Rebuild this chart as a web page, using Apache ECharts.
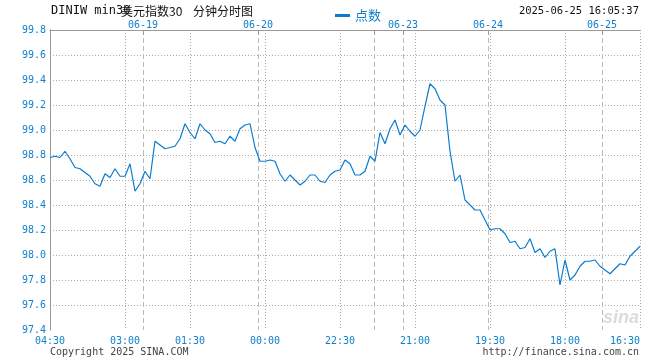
<!DOCTYPE html>
<html><head><meta charset="utf-8">
<script src="https://cdn.jsdelivr.net/npm/echarts@6/dist/echarts.min.js"></script>
<style>html,body{margin:0;padding:0;background:#fff}#c{width:660px;height:360px}</style>
</head><body><div id="c"></div>
<script>
// DINIW 30-minute close values (one value every 5 px)
const values = [
  98.78, 98.79, 98.78, 98.83, 98.77, 98.70, 98.69, 98.66, 98.63, 98.57,
  98.55, 98.65, 98.62, 98.69, 98.63, 98.63, 98.73, 98.51, 98.57, 98.67,
  98.61, 98.91, 98.88, 98.85, 98.86, 98.87, 98.93, 99.05, 98.98, 98.93,
  99.05, 99.00, 98.97, 98.90, 98.91, 98.89, 98.95, 98.91, 99.01, 99.04,
  99.05, 98.86, 98.75, 98.75, 98.76, 98.75, 98.65, 98.59, 98.64, 98.60,
  98.56, 98.59, 98.64, 98.64, 98.59, 98.58, 98.64, 98.67, 98.68, 98.76,
  98.73, 98.64, 98.64, 98.67, 98.79, 98.75, 98.98, 98.89, 99.01, 99.08,
  98.96, 99.04, 98.99, 98.95, 99.00, 99.19, 99.37, 99.33, 99.24, 99.20,
  98.83, 98.59, 98.64, 98.44, 98.40, 98.36, 98.36, 98.28, 98.20, 98.21,
  98.21, 98.17, 98.10, 98.11, 98.05, 98.06, 98.13, 98.02, 98.05, 97.98,
  98.03, 98.05, 97.76, 97.96, 97.80, 97.84, 97.91, 97.95, 97.95, 97.96,
  97.91, 97.88, 97.85, 97.89, 97.93, 97.92, 97.99, 98.03, 98.07
];
const timeTickIdx = [0, 15, 28, 43, 58, 73, 88, 103, 118];
const timeLabels = ['04:30', '03:00', '01:30', '00:00', '22:30', '21:00', '19:30', '18:00', '16:30'];
const dateTickIdx = [18.6, 41.6, 64.8, 70.6, 87.6, 110.4];
const dateLabels = ['06-19', '06-20', '', '06-23', '06-24', '06-25'];
const yLabelVals = [97.4, 97.6, 97.8, 98.0, 98.2, 98.4, 98.6, 98.8, 99.0, 99.2, 99.4, 99.6, 99.8];
const yGridVals = [97.6, 97.8, 98.0, 98.2, 98.4, 98.6, 98.8, 99.0, 99.2, 99.4, 99.6];
const yMin = 97.4, yMax = 99.8;
const seriesName = '点数';
const titleCode = 'DINIW min30';
const titleCn = '美元指数30';
const titleKind = '分钟分时图';
const stamp = '2025-06-25 16:05:37';
const copyright = 'Copyright 2025 SINA.COM';
const site = 'http://finance.sina.com.cn';

const mono = '"DejaVu Sans Mono", monospace';
const blue = '#1180cc';
const lineBlue = '#0a7ccf';
function lookup(idx, labels, v) {
  for (let k = 0; k < idx.length; k++) if (Math.abs(idx[k] - v) < 1e-6) return labels[k];
  return '';
}
const chart = echarts.init(document.getElementById('c'), null, { renderer: 'canvas' });
chart.setOption({
  animation: false,
  grid: { left: 50, right: 20, top: 30, bottom: 30 },
  legend: {
    left: 330, top: 4, icon: 'rect', itemWidth: 15, itemHeight: 3,
    textStyle: { color: blue, fontSize: 13, fontFamily: '"Noto Sans CJK SC"' },
    data: [{ name: seriesName, itemStyle: { color: lineBlue } }]
  },
  xAxis: [
    {
      type: 'value', min: 0, max: values.length - 1, position: 'bottom',
      axisLine: { show: false },
      axisTick: { show: false, customValues: timeTickIdx },
      axisLabel: {
        customValues: timeTickIdx, formatter: v => lookup(timeTickIdx, timeLabels, v),
        color: blue, fontFamily: mono, fontSize: 10, margin: 6,
        alignMinLabel: 'center', alignMaxLabel: 'right'
      },
      splitLine: { show: true, lineStyle: { color: '#aaa', type: [1, 2], width: 1 } }
    },
    {
      type: 'value', min: 0, max: values.length - 1, position: 'top',
      axisLine: { show: true, lineStyle: { color: '#999' } },
      axisTick: { show: true, inside: true, length: 5, customValues: dateTickIdx, lineStyle: { color: '#999' } },
      axisLabel: {
        customValues: dateTickIdx, formatter: v => lookup(dateTickIdx, dateLabels, v),
        color: blue, fontFamily: mono, fontSize: 10, margin: 0
      },
      splitLine: { show: true, lineStyle: { color: '#bbb', type: [5, 3], width: 1 } }
    }
  ],
  yAxis: [
    {
      type: 'value', min: yMin, max: yMax,
      axisLine: { show: true, lineStyle: { color: '#999' } },
      axisTick: { show: false, customValues: yGridVals },
      axisLabel: { customValues: yLabelVals, formatter: v => v.toFixed(1), color: blue, fontFamily: mono, fontSize: 10, margin: 4 },
      splitLine: { show: true, lineStyle: { color: '#aaa', type: [1, 2], width: 1 } }
    },
    {
      type: 'value', min: yMin, max: yMax, position: 'right',
      axisLine: { show: true, lineStyle: { color: '#999' } },
      axisTick: { show: false }, axisLabel: { show: false }, splitLine: { show: false }
    }
  ],
  series: [{
    name: seriesName, type: 'line', xAxisIndex: 0, yAxisIndex: 0,
    data: values.map((v, i) => [i, v]),
    showSymbol: false, symbol: 'none',
    lineStyle: { color: lineBlue, width: 1.2 }, itemStyle: { color: lineBlue }
  }],
  graphic: [
    { type: 'text', x: 51, y: 11, style: { text: titleCode, font: '12px "DejaVu Sans Mono"', fill: '#111', verticalAlign: 'middle' } },
    { type: 'text', x: 121, y: 11, style: { text: titleCn, font: '12px "Noto Sans CJK SC"', fill: '#111', verticalAlign: 'middle' } },
    { type: 'text', x: 193, y: 11, style: { text: titleKind, font: '12px "Noto Sans CJK SC"', fill: '#111', verticalAlign: 'middle' } },
    { type: 'text', x: 639, y: 11, style: { text: stamp, font: '10.5px "DejaVu Sans Mono"', fill: '#111', align: 'right', verticalAlign: 'middle' } },
    { type: 'text', x: 50, y: 352, style: { text: copyright, font: '10px "DejaVu Sans Mono"', fill: '#444', verticalAlign: 'middle' } },
    { type: 'text', x: 639, y: 352, style: { text: site, font: '10px "DejaVu Sans Mono"', fill: '#444', align: 'right', verticalAlign: 'middle' } },
    { type: 'text', x: 639, y: 318, z: -1, style: { text: 'sina', font: 'italic bold 18px "Liberation Sans"', fill: '#dcdcdc', align: 'right', verticalAlign: 'middle' } }
  ]
});
</script>
</body></html>
